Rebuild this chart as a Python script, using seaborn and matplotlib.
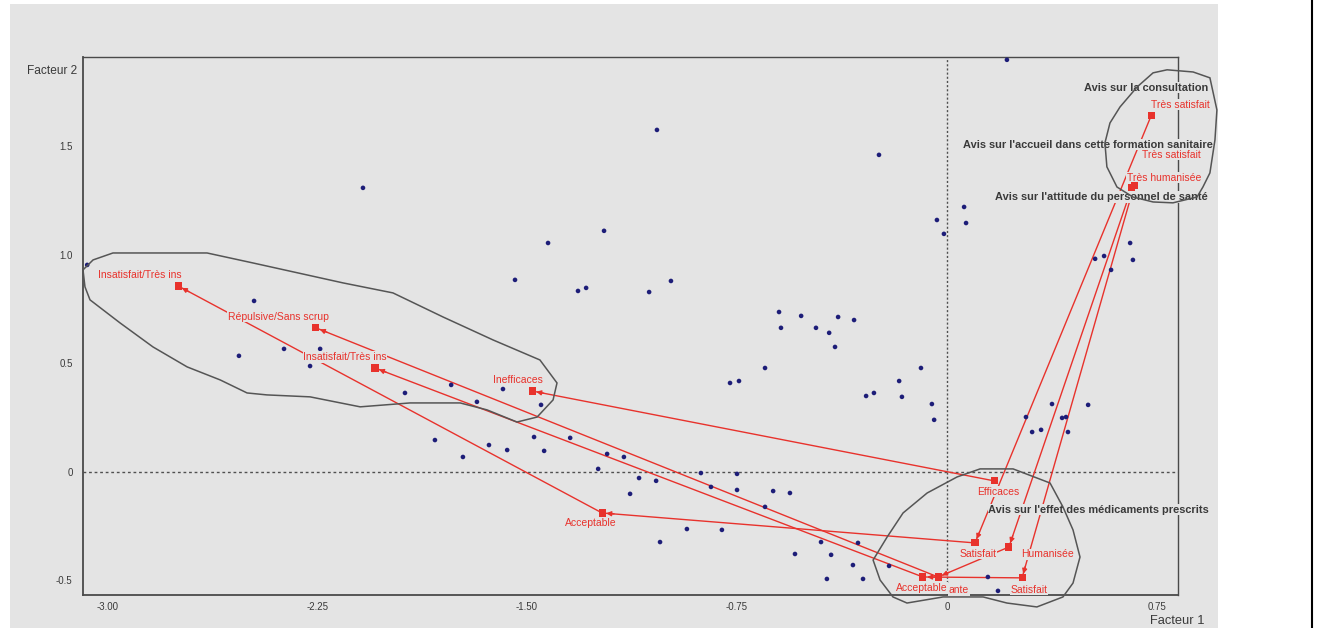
import numpy as np
import pandas as pd
import matplotlib
matplotlib.use("Agg")
import matplotlib.pyplot as plt
import seaborn as sns
from matplotlib.patches import Rectangle, Polygon
from matplotlib.lines import Line2D

sns.set_theme(style="white")
plt.rcParams['font.family'] = ['Liberation Sans', 'DejaVu Sans']

BG = '#e4e4e4'
RED = '#e8322c'
NAVY = '#1d1d78'
INK = '#3a3a3a'

# individuals (factor 1, factor 2)
ind_x = [0.214, -1.036, -0.243, -2.086, -1.225, -1.425, -0.036, -0.011, 0.061, 0.068,
         0.654, 0.529, 0.561, 0.664, 0.586, -1.543, -1.318, -1.289, -1.064, -0.986,
         -0.600, -0.521, -0.389, -0.332, -0.593, -0.468, -0.421, -0.400, -0.650, -0.093,
         -0.775, -0.743, -0.289, -0.261, -0.171, -0.161, -0.054, -0.046, -3.071, -2.475,
         -2.529, -2.368, -2.239, -2.275, -1.936, -1.771, -1.679, -1.586, -1.450, -1.829,
         -1.636, -1.571, -1.729, -1.475, -1.346, -1.439, -1.214, -1.154, -1.246, -0.879,
         -0.750, -1.100, -1.039, -0.843, -1.132, -0.750, -0.621, -0.561, -0.650, -0.929,
         -0.804, -1.025, -0.450, -0.318, -0.543, -0.414, -0.336, -0.207, -0.429, -0.300,
         0.375, 0.504, 0.282, 0.411, 0.425, 0.304, 0.336, 0.432, 0.146, 0.182]
ind_y = [1.899, 1.576, 1.461, 1.309, 1.111, 1.055, 1.161, 1.097, 1.221, 1.147,
         1.055, 0.982, 0.995, 0.977, 0.931, 0.885, 0.834, 0.848, 0.829, 0.880,
         0.737, 0.719, 0.714, 0.700, 0.664, 0.664, 0.641, 0.576, 0.479, 0.479,
         0.410, 0.419, 0.350, 0.364, 0.419, 0.346, 0.313, 0.240, 0.954, 0.788,
         0.535, 0.567, 0.567, 0.488, 0.364, 0.401, 0.323, 0.382, 0.309, 0.147,
         0.124, 0.101, 0.069, 0.161, 0.157, 0.097, 0.083, 0.069, 0.014, -0.005,
         -0.009, -0.028, -0.041, -0.069, -0.101, -0.083, -0.088, -0.097, -0.161, -0.263,
         -0.267, -0.323, -0.323, -0.327, -0.378, -0.382, -0.429, -0.433, -0.493, -0.493,
         0.313, 0.309, 0.253, 0.249, 0.253, 0.184, 0.194, 0.184, -0.484, -0.548]

# modalities of the active variables, in trajectory order
cat_var = ['consultation'] * 4 + ['accueil'] * 4 + ['attitude'] * 4 + ['effet'] * 2
cat_label = ['Insatisfait/Très ins', 'Acceptable', 'Satisfait', 'Très satisfait',
             'Insatisfait/Très ins', 'Acceptable', 'Satisfait', 'Très satisfait',
             'Répulsive/Sans scrup', 'ante', 'Humanisée', 'Très humanisée',
             'Inefficaces', 'Efficaces']
cat_x = [-2.746, -1.232, 0.100, 0.729,
         -2.043, -0.086, 0.268, 0.668,
         -2.254, -0.032, 0.221, 0.660,
         -1.482, 0.168]
cat_y = [0.857, -0.189, -0.327, 1.641,
         0.479, -0.484, -0.488, 1.318,
         0.664, -0.484, -0.346, 1.310,
         0.373, -0.041]

var_names = ["Avis sur la consultation",
             "Avis sur l'accueil dans cette formation sanitaire",
             "Avis sur l'attitude du personnel de santé",
             "Avis sur l'effet des médicaments prescrits"]
var_name_x = [0.932, 0.950, 0.932, 0.936]
var_name_y = [1.770, 1.507, 1.267, -0.175]

# hand drawn groupings (data units)
hull_left_x = [-2.979, -2.643, -2.479, -2.157, -1.979, -1.800, -1.621, -1.454, -1.393, -1.407,
               -1.464, -1.536, -1.643, -1.739, -1.918, -2.096, -2.275, -2.429, -2.500, -2.596,
               -2.714, -2.836, -2.954, -3.061, -3.079, -3.086, -3.050]
hull_left_y = [1.009, 1.009, 0.963, 0.871, 0.825, 0.714, 0.608, 0.516, 0.410, 0.332,
               0.253, 0.230, 0.286, 0.318, 0.318, 0.300, 0.346, 0.355, 0.364, 0.424,
               0.484, 0.576, 0.687, 0.793, 0.853, 0.931, 0.977]
hull_top_x = [0.786, 0.879, 0.939, 0.964, 0.957, 0.939, 0.914, 0.893, 0.807, 0.736,
              0.664, 0.607, 0.571, 0.564, 0.582, 0.618, 0.679, 0.736]
hull_top_y = [1.853, 1.843, 1.816, 1.668, 1.530, 1.378, 1.313, 1.267, 1.240, 1.244,
              1.267, 1.313, 1.406, 1.516, 1.608, 1.682, 1.774, 1.839]
hull_bot_x = [0.118, 0.236, 0.368, 0.414, 0.450, 0.475, 0.450, 0.414, 0.321, 0.214,
              0.129, -0.014, -0.143, -0.193, -0.239, -0.264, -0.214, -0.157, -0.071, 0.036]
hull_bot_y = [0.014, 0.014, -0.051, -0.161, -0.267, -0.392, -0.512, -0.576, -0.622, -0.604,
              -0.576, -0.576, -0.604, -0.576, -0.498, -0.406, -0.300, -0.189, -0.097, -0.023]

# label offsets in pixels from each modality square
lab_dx = [-38, -11, 3, 29, -30, -1, 7, 37, -38, 21, 39, 32, -14, 4]
lab_dy = [11, -10, -11, 11, 11, -11, -12, 31, 11, -13, -7, 10, 11, -11]

ind = pd.DataFrame({'F1': ind_x, 'F2': ind_y})
cat = pd.DataFrame({'var': cat_var, 'label': cat_label, 'F1': cat_x, 'F2': cat_y})

W, H = 1317, 628
fig = plt.figure(figsize=(W / 100, H / 100), dpi=100, facecolor='white')
fig.add_artist(Rectangle((10 / W, 0), 1208 / W, 1 - 4 / H, transform=fig.transFigure,
                         facecolor=BG, edgecolor='none', zorder=-10))
fig.add_artist(Line2D([1312 / W, 1312 / W], [0, 1], transform=fig.transFigure,
                      color='black', lw=1.5))

ax = fig.add_axes([83 / W, 1 - 595 / H, (1178 - 83) / W, (595 - 57) / H])
ax.set_facecolor(BG)
ax.set_xlim(-3.086, 0.825)
ax.set_ylim(-0.567, 1.912)

ax.axhline(0, color='#505050', lw=1, ls=(0, (2, 2)), zorder=1)
ax.axvline(0, color='#505050', lw=1, ls=(0, (1.5, 1.5)), zorder=1)

sns.scatterplot(data=ind, x='F1', y='F2', color=NAVY, s=11, marker='o',
                edgecolor='none', ax=ax, zorder=3)

sns.lineplot(data=cat, x='F1', y='F2', units='var', estimator=None, sort=False,
             color=RED, lw=1, ax=ax, legend=False, zorder=2)

# small arrowheads at each modality pointing back from the next one
for v, g in cat.groupby('var', sort=False):
    pts = g[['F1', 'F2']].to_numpy()
    for p, q in zip(pts[:-1], pts[1:]):
        dp = ax.transData.transform(p)
        dq = ax.transData.transform(q)
        d = (dq - dp) / np.hypot(*(dq - dp))
        tail = ax.transData.inverted().transform(dp + d * 12)
        ax.annotate('', xy=p, xytext=tail, zorder=5,
                    arrowprops=dict(arrowstyle='-|>', color=RED, lw=1,
                                    mutation_scale=7, shrinkA=0, shrinkB=3))

sns.scatterplot(data=cat, x='F1', y='F2', color=RED, s=26, marker='s',
                edgecolor='none', ax=ax, zorder=6)

for i, lab in enumerate(cat_label):
    ax.annotate(lab, xy=(cat_x[i], cat_y[i]), xytext=(lab_dx[i], lab_dy[i]),
                textcoords='offset pixels', ha='center', va='center', color=RED,
                fontsize=7.5, zorder=4, annotation_clip=False,
                bbox=dict(boxstyle='square,pad=0.05', fc=BG, ec='none'))

for name, x, y in zip(var_names, var_name_x, var_name_y):
    ax.text(x, y, name, ha='right', va='center', fontsize=7.9, fontweight='bold',
            color=INK, zorder=4, clip_on=False,
            bbox=dict(boxstyle='square,pad=0.05', fc=BG, ec='none'))

for hx, hy in [(hull_left_x, hull_left_y), (hull_top_x, hull_top_y), (hull_bot_x, hull_bot_y)]:
    ax.add_patch(Polygon(np.column_stack([hx, hy]), closed=True, fill=False,
                         ec='#555555', lw=1.1, zorder=7, clip_on=False))

ax.set_xticks([-3.0, -2.25, -1.5, -0.75, 0, 0.75])
ax.set_xticklabels(['-3.00', '-2.25', '-1.50', '-0.75', '0', '0.75'])
ax.set_yticks([-0.5, 0, 0.5, 1.0, 1.5])
ax.set_yticklabels(['-0.5', '0', '0.5', '1.0', '1.5'])
ax.tick_params(direction='inout', length=7, width=1, color='#444444',
               labelsize=7, labelcolor=INK)
ax.tick_params(axis='x', pad=1.5)
ax.tick_params(axis='y', pad=4)
ax.set_xlabel('')
ax.set_ylabel('')
for side, sp in ax.spines.items():
    sp.set_color('#4a4a4a')
    sp.set_linewidth(1.3 if side in ('left', 'bottom') else 1.0)

fig.text(27 / W, 1 - 71 / H, 'Facteur 2', fontsize=8.6, color=INK, va='center')
fig.text(1150 / W, 1 - 621 / H, 'Facteur 1', fontsize=9.3, color=INK, va='center')

fig.savefig('out.png', dpi=100, facecolor='white')
